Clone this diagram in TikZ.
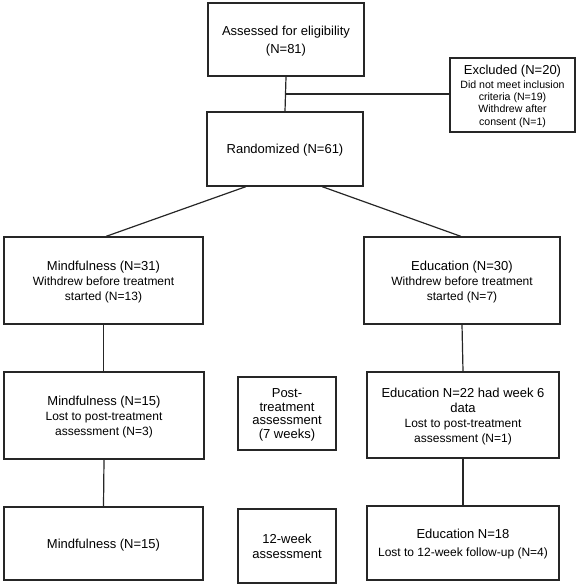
\documentclass[tikz,border=0pt]{standalone}
\usepackage{fontspec}
\setmainfont{Liberation Sans}
\newcommand{\mn}{\fontsize{13}{15}\selectfont}
\newcommand{\sm}{\fontsize{12}{14.5}\selectfont}
\newcommand{\xs}{\fontsize{10.6}{12.3}\selectfont}
\tikzset{
  box/.style={draw=black!85, line width=1.2pt, align=center, inner sep=0pt, font=\mn, text depth=-5pt},
  conn/.style={draw=black!85, line width=1.2pt}
}
\begin{document}
\begin{tikzpicture}[x=1pt,y=-1pt]
\useasboundingbox (0,0) rectangle (578,585);
\node[box, minimum width=156pt, minimum height=73pt] (assess) at (286,39.5) {Assessed for eligibility\\[3pt](N=81)};
\node[box, font=\xs, minimum width=125pt, minimum height=74pt] (excl) at (512.5,95) {\mn Excluded (N=20)\\[1.5pt] \xs Did not meet inclusion\\ \xs criteria (N=19)\\ \xs Withdrew after\\ \xs consent (N=1)};
\node[box, minimum width=156pt, minimum height=74pt] (rand) at (285,149) {Randomized (N=61)};
\node[box, minimum width=199pt, minimum height=87pt] (mind1) at (103.5,280.5) {\mn Mindfulness (N=31)\\ \sm Withdrew before treatment\\ \sm started (N=13)};
\node[box, minimum width=196pt, minimum height=87pt] (edu1) at (462,280.5) {\mn Education (N=30)\\ \sm Withdrew before treatment\\ \sm started (N=7)};
\node[box, minimum width=200pt, minimum height=87pt] (mind2) at (104,415.5) {\mn Mindfulness (N=15)\\ \sm Lost to post-treatment\\ \sm assessment (N=3)};
\node[box, font=\fontsize{13}{13.5}\selectfont, minimum width=98pt, minimum height=73pt] (post) at (287,413.5) {Post-\\treatment\\assessment\\(7 weeks)};
\node[box, minimum width=192pt, minimum height=86pt] (edu2) at (463,415) {\mn Education N=22 had week 6\\ \mn data\\ \sm Lost to post-treatment\\ \sm assessment (N=1)};
\node[box, minimum width=199pt, minimum height=73pt] (mind3) at (103.5,543.5) {Mindfulness (N=15)};
\node[box, minimum width=98pt, minimum height=74pt] (week) at (287,546) {12-week\\assessment};
\node[box, minimum width=192pt, minimum height=74pt] (edu3) at (463,543) {\mn Education N=18\\[3pt] \sm Lost to 12-week follow-up (N=4)};
\draw[conn] (assess.south) -- (rand.north);
\coordinate (j) at (285,94);
\draw[conn] (j) -- (j -| excl.west);
\draw[conn] ([xshift=-39pt]rand.south) -- ([xshift=2.5pt]mind1.north);
\draw[conn] ([xshift=37pt]rand.south) -- ([xshift=-1pt]edu1.north);
\draw[conn] (mind1.south) -- (mind1.south |- mind2.north);
\draw[conn] (edu1.south) -- (edu2.north);
\draw[conn] (mind2.south) -- (mind3.north);
\draw[conn] (edu2.south) -- (edu3.north);
\end{tikzpicture}
\end{document}
